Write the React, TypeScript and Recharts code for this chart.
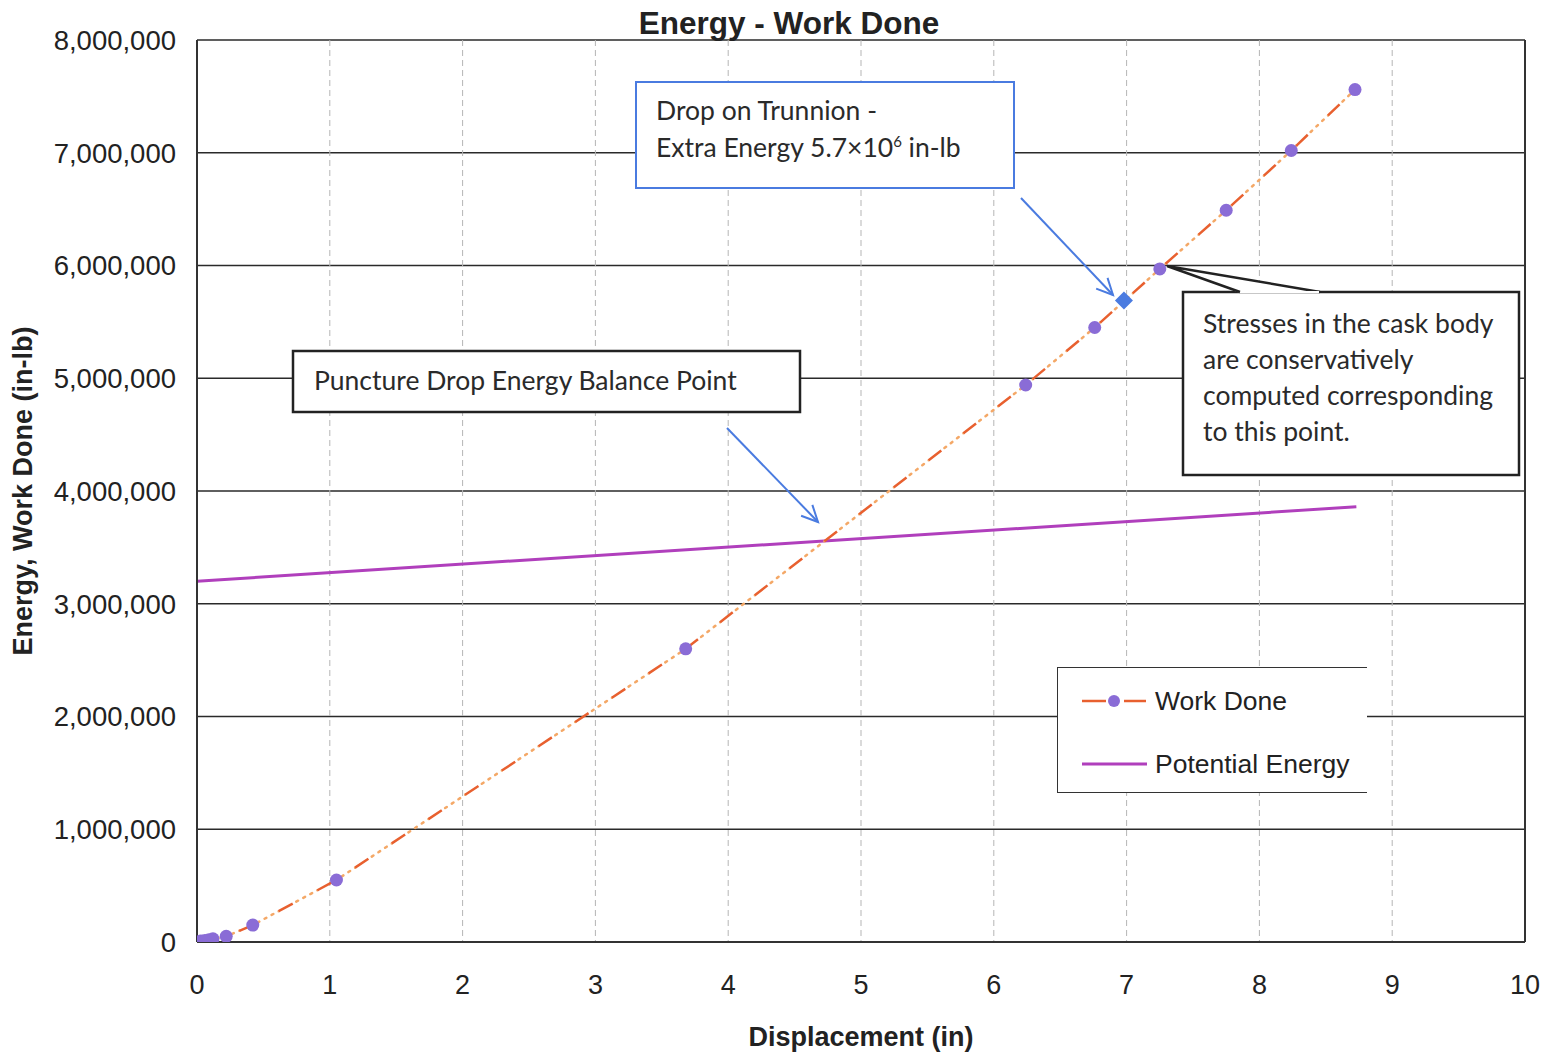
import React from 'react';
import {
  ComposedChart, Line, Scatter, XAxis, YAxis, CartesianGrid, Legend, ReferenceLine,
} from 'recharts';

// ---- data ----
const workX = [0, 0.03, 0.06, 0.09, 0.12, 0.22, 0.42, 1.05, 3.68, 6.24, 6.76, 7.25, 7.75, 8.24, 8.72];
const workY = [0, 8000, 14000, 20000, 28000, 50000, 150000, 550000, 2600000, 4940000, 5450000, 5970000, 6490000, 7020000, 7560000];
const peX = [0, 8.73];
const peY = [3200000, 3860000];
const trunnionX = [6.98];
const trunnionY = [5690000];
const xTicks = [0, 1, 2, 3, 4, 5, 6, 7, 8, 9, 10];
const yTicks = [0, 1000000, 2000000, 3000000, 4000000, 5000000, 6000000, 7000000, 8000000];

const workData = workX.map((x, i) => ({ x, y: workY[i] }));
const peData = peX.map((x, i) => ({ x, y: peY[i] }));
const trunnionData = trunnionX.map((x, i) => ({ x, y: trunnionY[i] }));

const AXIS_FONT = '"Liberation Sans", Arial, sans-serif';
const NOTE_FONT = 'Lato, "Open Sans", sans-serif';
const NOTE_SIZE = 26.5;
const DASH_COLOR = '#E8602F';
const DOT_COLOR = '#F4A867';
const MARKER = '#8A6CD6';
const PE_COLOR = '#B03FBC';
const BLUE = '#4A7BE0';

const Diamond = (props: any) => {
  const { cx, cy } = props;
  if (cx == null || cy == null) return null;
  const r = 9;
  return <polygon points={`${cx},${cy - r} ${cx + r},${cy} ${cx},${cy + r} ${cx - r},${cy}`} fill={BLUE} />;
};

const LegendBox = () => (
  <div style={{
    width: 310, height: 126, boxSizing: 'border-box', background: '#fff',
    borderTop: '1.5px solid #333', borderLeft: '1.5px solid #333', borderBottom: '1.5px solid #333',
    position: 'relative',
  }}>
    <svg width={310} height={126} style={{ position: 'absolute', left: 0, top: 0 }}>
      <line x1={24} y1={33} x2={48} y2={33} stroke={DASH_COLOR} strokeWidth={2.5} />
      <line x1={66} y1={33} x2={88} y2={33} stroke={DASH_COLOR} strokeWidth={2.5} />
      <circle cx={56} cy={33} r={6} fill={MARKER} />
      <text x={97} y={42} fontFamily={AXIS_FONT} fontSize={26.5} fill="#222">Work Done</text>
      <line x1={24} y1={96} x2={89} y2={96} stroke={PE_COLOR} strokeWidth={3} />
      <text x={97} y={105} fontFamily={AXIS_FONT} fontSize={26.5} fill="#222">Potential Energy</text>
    </svg>
  </div>
);

const Arrow = ({ x1, y1, x2, y2 }: { x1: number; y1: number; x2: number; y2: number }) => {
  const a = Math.atan2(y2 - y1, x2 - x1);
  const L = 18;
  const s = 0.45;
  const p1 = [x2 - L * Math.cos(a - s), y2 - L * Math.sin(a - s)];
  const p2 = [x2 - L * Math.cos(a + s), y2 - L * Math.sin(a + s)];
  return (
    <g stroke={BLUE} strokeWidth={2} fill="none">
      <line x1={x1} y1={y1} x2={x2} y2={y2} />
      <polyline points={`${p1[0]},${p1[1]} ${x2},${y2} ${p2[0]},${p2[1]}`} />
    </g>
  );
};

export default function App() {
  return (
    <div style={{ position: 'absolute', left: 0, top: 0, width: 1542, height: 1052, background: '#fff' }}>
      <ComposedChart
        width={1542}
        height={1052}
        margin={{ top: 40, right: 17, bottom: 0, left: 0 }}
      >
        <CartesianGrid vertical={false} stroke="#2a2a2a" strokeWidth={1.5} />
        <CartesianGrid horizontal={false} stroke="#b5b5b5" strokeDasharray="6 4" />
        <XAxis
          type="number"
          dataKey="x"
          domain={[0, 10]}
          ticks={xTicks}
          allowDataOverflow
          height={110}
          tickLine={false}
          tickMargin={27}
          axisLine={{ stroke: '#333', strokeWidth: 2 }}
          tick={{ fontFamily: AXIS_FONT, fontSize: 27, fill: '#222' }}
          label={{ value: 'Displacement (in)', position: 'insideBottom', offset: 6, style: { fontFamily: AXIS_FONT, fontSize: 27, fontWeight: 'bold', fill: '#222' } }}
        />
        <YAxis
          type="number"
          dataKey="y"
          domain={[0, 8000000]}
          ticks={yTicks}
          allowDataOverflow
          width={197}
          tickLine={false}
          tickMargin={15}
          axisLine={{ stroke: '#333', strokeWidth: 2 }}
          tickFormatter={(v: number) => v.toLocaleString('en-US')}
          tick={{ fontFamily: AXIS_FONT, fontSize: 27.5, fill: '#222' }}
          label={{ value: 'Energy, Work Done (in-lb)', angle: -90, position: 'insideLeft', offset: 22, style: { fontFamily: AXIS_FONT, fontSize: 27, fontWeight: 'bold', fill: '#222', textAnchor: 'middle' } }}
        />
        <ReferenceLine x={10} stroke="#333" strokeWidth={2} />
        <Line
          data={peData}
          dataKey="y"
          name="Potential Energy"
          stroke={PE_COLOR}
          strokeWidth={3}
          dot={false}
          activeDot={false}
          isAnimationActive={false}
        />
        <Line
          data={workData}
          dataKey="y"
          legendType="none"
          stroke={DOT_COLOR}
          strokeWidth={2.5}
          strokeDasharray="0 20 2 6 2 6 2 6"
          strokeLinecap="round"
          dot={false}
          activeDot={false}
          isAnimationActive={false}
        />
        <Line
          data={workData}
          dataKey="y"
          name="Work Done"
          stroke={DASH_COLOR}
          strokeWidth={2.5}
          strokeDasharray="16 28"
          dot={{ r: 6.5, fill: MARKER, stroke: 'none' }}
          activeDot={false}
          isAnimationActive={false}
        />
        <Scatter
          data={trunnionData}
          dataKey="y"
          legendType="none"
          shape={Diamond}
          isAnimationActive={false}
        />
        <Legend
          layout="vertical"
          align="center"
          verticalAlign="middle"
          wrapperStyle={{ left: 1057, top: 667, width: 310, height: 126 }}
          content={() => <LegendBox />}
        />
      </ComposedChart>

      <svg width={1542} height={1052} style={{ position: 'absolute', left: 0, top: 0, pointerEvents: 'none' }}>
        <text x={789} y={34} textAnchor="middle" fontFamily={AXIS_FONT} fontSize={31.5} fontWeight="bold" fill="#222">Energy - Work Done</text>

        {/* Drop on Trunnion box */}
        <rect x={636} y={82} width={378} height={106} fill="#fff" stroke={BLUE} strokeWidth={2} />
        <text x={656} y={120} fontFamily={NOTE_FONT} fontSize={NOTE_SIZE} fill="#2a2a2a">Drop on Trunnion -</text>
        <text x={656} y={157} fontFamily={NOTE_FONT} fontSize={NOTE_SIZE} fill="#2a2a2a">
          Extra Energy 5.7×10<tspan dy={-10} fontSize={15}>6</tspan><tspan dy={10}> in-lb</tspan>
        </text>
        <Arrow x1={1021} y1={198} x2={1113} y2={295} />

        {/* Puncture box */}
        <rect x={293} y={351} width={507} height={61} fill="#fff" stroke="#222" strokeWidth={2.5} />
        <text x={314} y={390} fontFamily={NOTE_FONT} fontSize={NOTE_SIZE} fill="#2a2a2a">Puncture Drop Energy Balance Point</text>
        <Arrow x1={727} y1={428} x2={818} y2={522} />

        {/* Stresses callout */}
        <rect x={1183} y={292} width={336} height={183} fill="#fff" stroke="#222" strokeWidth={2.5} />
        <polygon points="1167,266 1240,293 1320,293" fill="#fff" stroke="none" />
        <polyline points="1240,292 1167,266 1320,292" fill="none" stroke="#222" strokeWidth={2.5} />
        <line x1={1241} y1={292} x2={1319} y2={292} stroke="#fff" strokeWidth={2} />
        <text fontFamily={NOTE_FONT} fontSize={NOTE_SIZE} fill="#2a2a2a">
          <tspan x={1203} y={333}>Stresses in the cask body</tspan>
          <tspan x={1203} y={369}>are conservatively</tspan>
          <tspan x={1203} y={405}>computed corresponding</tspan>
          <tspan x={1203} y={441}>to this point.</tspan>
        </text>
      </svg>
    </div>
  );
}
